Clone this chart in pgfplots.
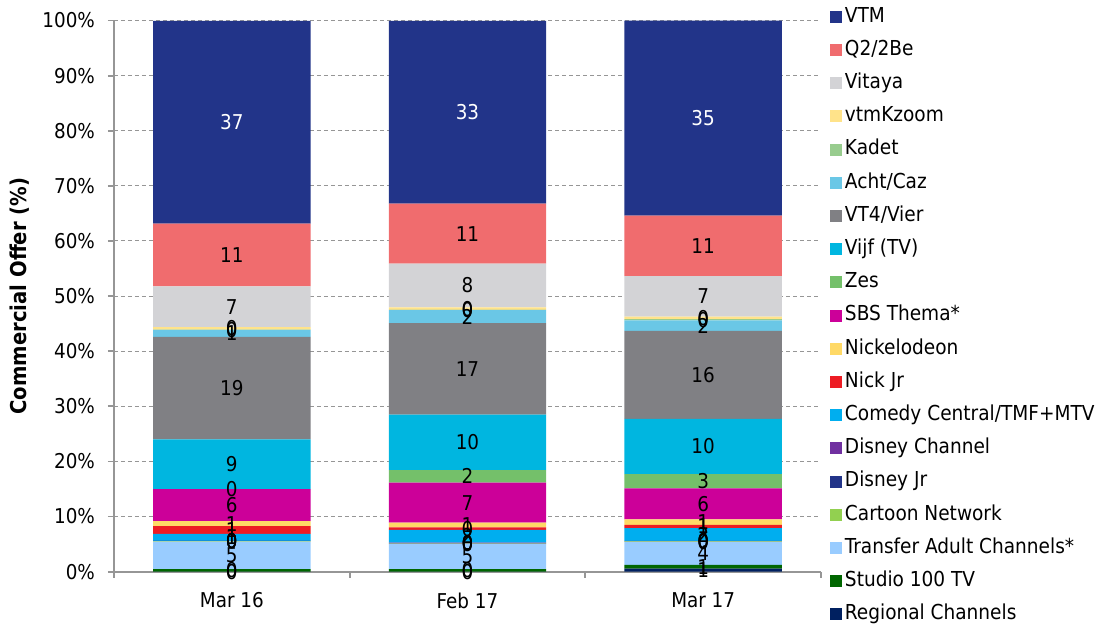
\documentclass[border=0pt]{standalone}
\usepackage{fontspec}
\setmainfont{DejaVu Sans Condensed}
\usepackage{pgfplots}
\usepackage{pgfplotstable}
\pgfplotsset{compat=1.18}

\definecolor{cVTM}{RGB}{34,52,137}
\definecolor{cQ2}{RGB}{240,108,110}
\definecolor{cVitaya}{RGB}{211,211,214}
\definecolor{cKzoom}{RGB}{255,227,138}
\definecolor{cKadet}{RGB}{152,204,142}
\definecolor{cAcht}{RGB}{106,199,230}
\definecolor{cVT4}{RGB}{128,128,132}
\definecolor{cVijf}{RGB}{0,182,224}
\definecolor{cZes}{RGB}{116,192,106}
\definecolor{cSBS}{RGB}{204,0,153}
\definecolor{cNickel}{RGB}{255,217,102}
\definecolor{cNickJr}{RGB}{237,28,36}
\definecolor{cComedy}{RGB}{0,174,239}
\definecolor{cDisCh}{RGB}{112,48,160}
\definecolor{cDisJr}{RGB}{34,52,137}
\definecolor{cCartoon}{RGB}{146,208,80}
\definecolor{cTransfer}{RGB}{153,204,255}
\definecolor{cStudio}{RGB}{0,102,0}
\definecolor{cReg}{RGB}{0,32,96}
\definecolor{axgray}{RGB}{150,150,150}

\pgfplotstableread{
x Reg Studio Transfer Cartoon DisJr DisCh Comedy NickJr Nickel SBS Zes Vijf VT4 Acht Kadet Kzoom Vitaya Q2 VTM
0 0.01 0.45 5.0 0.1 0.01 0.01 1.3 1.4 0.9 5.8 0.01 9.0 18.6 1.3 0.01 0.45 7.4 11.4 36.8
1 0.01 0.45 4.55 0.1 0.01 0.16 2.3 0.45 0.85 7.3 2.25 10.05 16.6 2.4 0.01 0.45 7.95 10.9 33.15
2 0.55 0.7 4.15 0.1 0.01 0.1 2.3 0.6 1.0 5.6 2.6 10.0 16.0 1.9 0.2 0.45 7.35 11.0 35.35
}\datatable

\newcommand{\seg}[3]{%
  \addplot[fill=#2, draw=none] table[x=x,y=#1]{\datatable};
  \addlegendentry{#3}
}
\newcommand{\lbl}[2]{%
  \addplot[fill=none, draw=none, point meta=\thisrow{#1},
    nodes near coords={\pgfmathprintnumber[fixed,precision=0]{\pgfplotspointmeta}},
    every node near coord/.append style={text=#2, anchor=center, font=\fontsize{10.2}{11}\selectfont, inner sep=0pt}]
    table[x=x,y=#1]{\datatable};
}

\pgfplotsset{
  base/.style={
    scale only axis,
    width=353.5pt, height=275.6pt,
    ybar stacked,
    bar width=0.668,
    xmin=-0.5, xmax=2.5, ymin=0, ymax=100,
    enlarge x limits=false,
    /pgf/number format/assume math mode=true,
    font=\fontsize{10.2}{11}\selectfont,
  }
}

\begin{document}
\begin{tikzpicture}
\begin{axis}[
  base,
  name=ax,
  axis x line*=bottom, axis y line*=left,
  axis line style={axgray, line width=0.9pt},
  tick align=outside,
  major tick length=3pt, minor tick length=3pt,
  tick style={axgray, line width=0.9pt},
  xtick={0,1,2},
  xticklabels={Mar 16, Feb 17, Mar 17},
  major x tick style={draw=none},
  minor xtick={-0.5,0.5,1.5,2.5},
  xticklabel style={yshift=-4pt},
  ytick={0,10,...,100},
  yticklabel={\pgfmathprintnumber{\tick}\%},
  yticklabel style={xshift=-3pt},
  ymajorgrids,
  major grid style={axgray, line width=0.5pt, dash pattern=on 2pt off 1.5pt},
  ylabel={\bfseries Commercial Offer (\%)},
  every axis y label/.style={at={(axis description cs:-0.134,0.5)}, rotate=90, anchor=center, font=\fontsize{10.9}{12}\selectfont},
  every axis plot post/.append style={legend image code/.code={\fill[#1] (0pt,-3pt) rectangle (6pt,3pt);}},
  reverse legend,
  legend cell align=left,
  legend style={draw=none, fill=none, at={(1,1)}, anchor=north west, xshift=4.5pt, yshift=6.8pt,
    font=\fontsize{10.3}{11}\selectfont, inner sep=0pt, outer sep=0pt,
    /tikz/row sep=6.6pt, /tikz/column sep=0pt,
    nodes={inner xsep=1.5pt, inner ysep=0pt, text height=7.6pt, text depth=2.4pt}},
]
\seg{Reg}{cReg}{Regional Channels}
\seg{Studio}{cStudio}{Studio 100 TV}
\seg{Transfer}{cTransfer}{Transfer Adult Channels*}
\seg{Cartoon}{cCartoon}{Cartoon Network}
\seg{DisJr}{cDisJr}{Disney Jr}
\seg{DisCh}{cDisCh}{Disney Channel}
\seg{Comedy}{cComedy}{Comedy Central/TMF+MTV}
\seg{NickJr}{cNickJr}{Nick Jr}
\seg{Nickel}{cNickel}{Nickelodeon}
\seg{SBS}{cSBS}{SBS Thema*}
\seg{Zes}{cZes}{Zes}
\seg{Vijf}{cVijf}{Vijf (TV)}
\seg{VT4}{cVT4}{VT4/Vier}
\seg{Acht}{cAcht}{Acht/Caz}
\seg{Kadet}{cKadet}{Kadet}
\seg{Kzoom}{cKzoom}{vtmKzoom}
\seg{Vitaya}{cVitaya}{Vitaya}
\seg{Q2}{cQ2}{Q2/2Be}
\seg{VTM}{cVTM}{VTM}
\end{axis}
\begin{axis}[base, hide axis, clip=false]
\lbl{Reg}{black}
\lbl{Studio}{black}
\lbl{Transfer}{black}
\lbl{Cartoon}{black}
\lbl{DisJr}{black}
\lbl{DisCh}{black}
\lbl{Comedy}{black}
\lbl{NickJr}{black}
\lbl{Nickel}{black}
\lbl{SBS}{black}
\lbl{Zes}{black}
\lbl{Vijf}{black}
\lbl{VT4}{black}
\lbl{Acht}{black}
\lbl{Kadet}{black}
\lbl{Kzoom}{black}
\lbl{Vitaya}{black}
\lbl{Q2}{black}
\lbl{VTM}{white}
\end{axis}
\pgfresetboundingbox
\path[use as bounding box] ([shift={(-57pt,-26.65pt)}]ax.south west) rectangle ([shift={(144.5pt,10.25pt)}]ax.north east);
\end{tikzpicture}
\end{document}
